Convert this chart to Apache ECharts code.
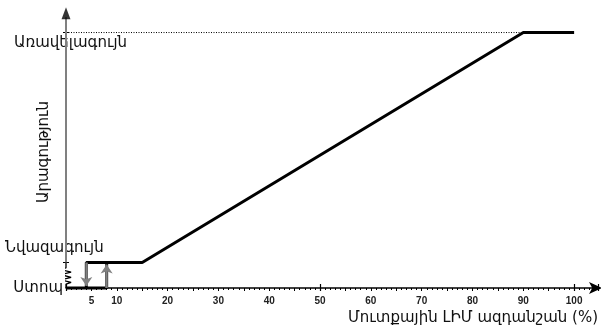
<!DOCTYPE html>
<html><head><meta charset="utf-8">
<script src="https://cdn.jsdelivr.net/npm/echarts@6/dist/echarts.min.js"></script>
<style>html,body{margin:0;padding:0;background:#fff}#c{width:601px;height:328px}</style>
</head><body><div id="c"></div>
<script>
// ---- data ----
const xTickLabels = [5, 10, 20, 30, 40, 50, 60, 70, 80, 90, 100];
const xLongTickStep = 50;
const levelNames = ['Ստոպ', 'Նվազագույն', 'Առավելագույն'];
const levelValues = [0, 10, 100];
const yTicks = [10, 100];
const curveMain = [[4, 0], [4, 10], [15, 10], [90, 100], [100, 100]];
const curveBranch = [[0, 0], [8, 0], [8, 10]];
const arrowOff = [[4, 10], [4, 0.8]];
const arrowOn = [[8, 0], [8, 9.2]];
const maxGuide = [[0, 100], [90, 100]];
const yAxisGray = [[0, 10], [0, 106]];
const yAxisHead = [[0, 107.6]];
const breakZigzag = [[0, 0], [0, 1.5], [1, 2.2], [-1, 3.2], [1, 4.2], [-1, 5.2], [1, 6.2], [-1, 7.2], [0, 7.9], [0, 10]];
const xTitle = 'Մուտքային ԼԻՄ ազդանշան (%)';
const yTitle = 'Արագություն';

const FONT = '"DejaVu Sans", sans-serif';
const chart = echarts.init(document.getElementById('c'));
const grid = { left: 66, right: 1, top: 7, bottom: 40 };
const xBase = { type: 'value', min: 0, max: 104.7, position: 'bottom', splitLine: { show: false } };
chart.setOption({
  animation: false,
  grid: grid,
  xAxis: [
    Object.assign({}, xBase, {
      interval: 5,
      axisLine: { show: true, lineStyle: { color: '#000', width: 1.5 }, symbol: ['none', 'arrow'], symbolSize: [9, 13], symbolOffset: [0, 4] },
      axisTick: { show: true, length: 3, lineStyle: { color: '#000', width: 1 } },
      minorTick: { show: true, splitNumber: 5, length: 2, lineStyle: { color: '#000', width: 1 } },
      axisLabel: { fontFamily: 'Arial, "Liberation Sans", sans-serif', fontWeight: 'bold', fontSize: 10, color: '#222', margin: 8,
        formatter: v => xTickLabels.indexOf(v) >= 0 ? String(v) : '' }
    }),
    Object.assign({}, xBase, {
      interval: xLongTickStep,
      offset: -4,
      axisLine: { show: false },
      axisTick: { show: true, length: 7, lineStyle: { color: '#000', width: 1.2 } },
      axisLabel: { show: false }
    })
  ],
  yAxis: [{
    type: 'value', min: 0, max: 110, offset: -3,
    splitLine: { show: false },
    axisLine: { show: false },
    axisTick: { show: true, length: 6, customValues: yTicks, lineStyle: { color: '#000', width: 1 } },
    axisLabel: { show: false }
  }],
  series: [
    { type: 'line', data: maxGuide, symbol: 'none', clip: false, lineStyle: { color: '#000', width: 1, type: [1, 1.5] }, z: 1 },
    { type: 'lines', coordinateSystem: 'cartesian2d', data: [{ coords: yAxisGray }], lineStyle: { color: '#808080', width: 2, opacity: 1 }, z: 2 },
    { type: 'scatter', data: yAxisHead, symbol: 'triangle', symbolSize: [9, 12], itemStyle: { color: '#000' }, clip: false, z: 3 },
    { type: 'line', data: breakZigzag, symbol: 'none', clip: false, lineStyle: { color: '#000', width: 1.3 }, z: 3 },
    { type: 'line', data: curveBranch, symbol: 'none', clip: false, lineStyle: { color: '#000', width: 3 }, z: 4 },
    { type: 'line', data: curveMain, symbol: 'none', clip: false, lineStyle: { color: '#000', width: 3 }, z: 4 },
    { type: 'lines', coordinateSystem: 'cartesian2d', data: [{ coords: arrowOff }, { coords: arrowOn }], symbol: ['none', 'arrow'], symbolSize: [8, 9], lineStyle: { color: '#808080', width: 2.5, opacity: 1 }, z: 5 }
  ]
});

const px = (x, y) => chart.convertToPixel({ gridIndex: 0 }, [x, y]);
const texts = [];
const pStop = px(0, levelValues[0]);
texts.push({ type: 'text', x: pStop[0] - 3, y: pStop[1], style: { text: levelNames[0], font: '15px ' + FONT, fill: '#111', align: 'right', verticalAlign: 'middle' } });
const pMin = px(0, levelValues[1]);
texts.push({ type: 'text', x: 5, y: pMin[1] - 14, style: { text: levelNames[1], font: '15px ' + FONT, fill: '#111', align: 'left', verticalAlign: 'middle' } });
const pMax = px(0, levelValues[2]);
texts.push({ type: 'text', x: 14, y: pMax[1] + 11, style: { text: levelNames[2], font: '15px ' + FONT, fill: '#111', align: 'left', verticalAlign: 'middle' } });
texts.push({ type: 'text', x: 44, y: 152, rotation: Math.PI / 2, style: { text: yTitle, font: '15px ' + FONT, fill: '#111', align: 'center', verticalAlign: 'middle' } });
texts.push({ type: 'text', x: 598, y: 318, style: { text: xTitle, font: '15px ' + FONT, fill: '#111', align: 'right', verticalAlign: 'middle' } });
chart.setOption({ graphic: texts });
</script></body></html>
